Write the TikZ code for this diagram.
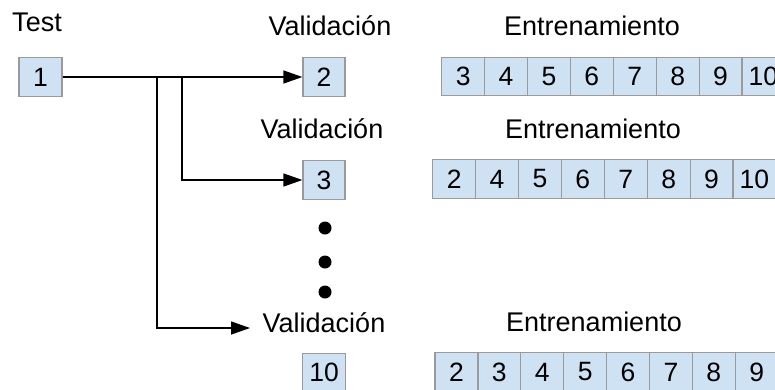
\documentclass[tikz,border=0pt]{standalone}
\usepackage{fontspec}
\setmainfont{Liberation Sans}
\usetikzlibrary{arrows.meta}
\definecolor{boxfill}{HTML}{CFE2F3}
\definecolor{boxline}{HTML}{9A9A9A}
\begin{document}
\begin{tikzpicture}[x=1pt,y=-1pt,
  cell/.style={draw=boxline,fill=boxfill,line width=1.2pt,minimum width=42.9pt,minimum height=38.5pt,inner sep=0pt,font=\fontsize{26.5}{30}\selectfont},
  lbl/.style={anchor=base,inner sep=0pt,font=\fontsize{27}{32}\selectfont},
  conn/.style={draw=black,line width=1.3pt},
  arr/.style={conn,-{Triangle[length=19pt,width=13pt]}},
  dot/.style={circle,fill=black,minimum size=13pt,inner sep=0pt}]
\clip (0,0) rectangle (775,389);
\fill[white] (0,0) rectangle (775,389);
% labels
\node[lbl] (tst) at (37,31.7) {Test};
\node[lbl] (va) at (330,35) {Validación};
\node[lbl] (ea) at (592,35) {Entrenamiento};
\node[lbl] (vb) at (322,138) {Validación};
\node[lbl] (eb) at (593,138) {Entrenamiento};
\node[lbl] (vc) at (324,332) {Validación};
\node[lbl] (ec) at (594,331.7) {Entrenamiento};
% single boxes
\node[cell] (b1) at (40.5,77) {1};
\node[cell,minimum width=42pt] (b2) at (324,77) {2};
\node[cell,minimum width=42pt] (b3) at (324,180) {3};
\node[cell] (b10) at (324,372.5) {10};
% training rows
\foreach \t [count=\i from 0] in {3,4,5,6,7,8,9,10}
  \node[cell] (ra\i) at ({441.7+21.45+42.9*\i},76.5) {\t};
\foreach \t [count=\i from 0] in {2,4,5,6,7,8,9,10}
  \node[cell] (rb\i) at ({432.7+21.45+42.9*\i},179) {\t};
\foreach \t [count=\i from 0] in {2,3,4,5,6,7,8,9}
  \node[cell] (rc\i) at ({435+21.45+42.9*\i},372) {\t};
% dots
\node[dot] (d1) at (325,228) {};
\node[dot] (d2) at (325,262) {};
\node[dot] (d3) at (325,292) {};
% connectors
\coordinate (j1) at (182,77);
\coordinate (j2) at (157,77);
\coordinate (e10) at (250,328);
\draw[arr] (b1.east) -- (b2.west);
\draw[arr] (b1.east) -- (j1) |- (b3.west);
\draw[arr] (b1.east) -- (j2) |- (e10);
\end{tikzpicture}
\end{document}
